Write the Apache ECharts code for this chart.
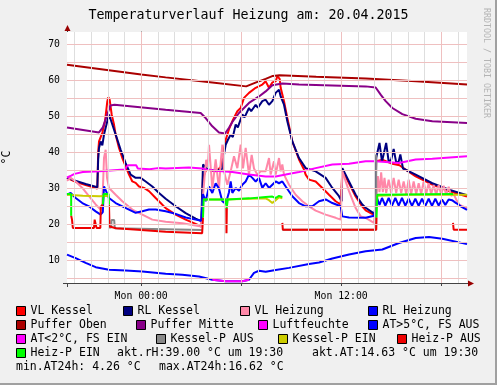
<!DOCTYPE html>
<html><head><meta charset="utf-8">
<script src="https://cdn.jsdelivr.net/npm/echarts@6/dist/echarts.min.js"></script>
<style>html,body{margin:0;padding:0;background:#F0F0F0}#c{width:497px;height:385px}</style>
</head><body><div id="c"></div>
<script>
// ---- text / tick data ----
const titleText = 'Temperaturverlauf Heizung am: 20.04.2015';
const xLabelValues = [0, 12];
const xLabelTexts = ['Mon 00:00', 'Mon 12:00'];
const xMajorTicks = [0, 6, 12, 18];
const yLabelValues = [10, 20, 30, 40, 50, 60, 70];
const infoTexts = ['akt.rH:39.00 °C um 19:30', 'akt.AT:14.63 °C um 19:30', 'min.AT24h: 4.26 °C', 'max.AT24h:16.62 °C'];

const seriesNames = ['VL Kessel','RL Kessel','VL Heizung','RL Heizung','Puffer Oben','Puffer Mitte','Luftfeuchte','AT>5°C, FS AUS','AT<2°C, FS EIN','Kessel-P AUS','Kessel-P EIN','Heiz-P AUS','Heiz-P EIN'];

// ---- series values: [hours relative to Mon 00:00, °C] ----
const vlKessel = [[-4.45,33.0],[-4.0,32.0],[-3.33,31.0],[-2.63,30.0],[-2.58,40.0],[-2.53,43.1],[-2.33,45.5],[-2.17,48.7],[-2.03,54.3],[-1.97,55.4],[-1.89,54.7],[-1.77,50.6],[-1.63,47.8],[-1.53,45.0],[-1.33,41.3],[-1.13,38.5],[-0.93,36.2],[-0.73,33.9],[-0.53,32.0],[-0.33,31.6],[-0.13,30.6],[0.17,30.2],[0.47,29.3],[0.87,27.4],[1.17,26.0],[1.47,24.6],[2.07,22.8],[2.67,21.4],[3.27,20.2],[3.61,19.5],[3.66,19.0],[3.71,33.0],[3.9,35.3],[4.5,34.8],[4.77,36.0],[4.87,39.4],[4.97,40.8],[5.07,43.5],[5.27,46.5],[5.47,48.7],[5.67,50.6],[5.77,51.5],[5.97,52.4],[6.17,55.2],[6.47,56.6],[6.87,58.0],[7.27,58.9],[7.47,59.8],[7.67,58.0],[7.87,59.5],[8.07,59.8],[8.17,61.2],[8.31,60.5],[8.37,58.0],[8.57,54.3],[8.77,49.6],[9.07,43.1],[9.47,38.1],[9.77,35.3],[9.87,33.9],[10.07,32.5],[10.47,32.0],[10.87,30.2],[11.27,28.3],[11.67,26.5],[11.97,25.6],[12.03,25.3],[12.07,35.0],[12.47,31.5],[12.87,27.8],[13.27,25.0],[13.47,24.0],[14.05,22.5],[14.1,37.6],[14.5,38.0],[15.0,37.0],[15.5,36.5],[15.87,35.3],[16.47,33.4],[17.47,31.1],[18.47,29.3],[19.55,27.8]];
const rlKessel = [[-4.45,33.0],[-4.0,32.3],[-3.33,31.3],[-2.63,30.4],[-2.58,38.0],[-2.53,41.3],[-2.43,43.1],[-2.33,42.0],[-2.23,45.0],[-2.13,46.9],[-1.93,50.6],[-1.89,50.8],[-1.73,47.8],[-1.53,45.0],[-1.23,40.8],[-0.93,37.1],[-0.63,33.9],[-0.33,33.0],[-0.03,33.0],[0.27,32.0],[0.67,30.6],[1.07,28.8],[1.47,27.2],[2.07,25.1],[2.67,23.2],[3.27,21.7],[3.61,21.0],[3.66,21.0],[3.71,36.7],[3.83,36.2],[4.0,35.3],[4.47,35.0],[4.87,35.5],[4.97,39.4],[5.07,42.2],[5.2,43.5],[5.37,45.0],[5.5,44.3],[5.67,47.8],[5.8,47.0],[6.07,50.6],[6.2,49.8],[6.47,52.4],[6.6,51.5],[6.87,53.3],[7.0,52.5],[7.27,54.3],[7.47,54.7],[7.67,53.3],[7.87,54.3],[8.07,56.6],[8.27,57.5],[8.37,55.6],[8.57,53.3],[8.77,48.7],[9.07,43.1],[9.47,38.5],[9.87,35.7],[10.47,34.8],[11.07,33.0],[11.47,30.2],[11.87,27.9],[12.03,26.5],[12.07,35.7],[12.47,32.0],[12.87,28.3],[13.27,25.6],[13.47,24.7],[14.07,22.8],[14.1,38.5],[14.22,39.0],[14.3,42.7],[14.45,37.5],[14.55,37.8],[14.7,42.7],[14.85,37.5],[15.0,38.0],[15.15,41.0],[15.3,37.3],[15.45,37.5],[15.55,39.5],[15.71,35.6],[16.47,33.9],[17.47,31.5],[18.47,29.7],[19.55,28.2]];
const vlHeizung = [[-4.45,32.2],[-4.23,33.0],[-3.93,32.0],[-3.53,30.2],[-3.13,27.9],[-2.73,25.6],[-2.43,24.2],[-2.33,25.5],[-2.23,38.5],[-2.13,40.8],[-2.05,33.0],[-1.93,30.2],[-1.53,28.3],[-1.13,26.5],[-0.53,24.2],[0.07,22.8],[0.67,21.4],[1.47,20.8],[2.47,20.4],[3.61,19.5],[3.71,28.0],[3.8,33.0],[3.9,38.0],[4.0,36.0],[4.07,42.2],[4.27,30.0],[4.47,38.1],[4.67,29.7],[4.77,37.2],[4.87,42.2],[4.97,34.8],[5.17,31.1],[5.37,34.8],[5.57,39.0],[5.77,35.7],[5.97,42.2],[6.11,35.6],[6.27,41.3],[6.47,33.9],[6.63,39.4],[6.77,35.6],[6.97,33.9],[7.17,34.8],[7.47,34.8],[7.67,38.5],[7.77,33.9],[7.97,37.6],[8.07,33.9],[8.27,38.5],[8.37,34.8],[8.47,36.7],[8.57,33.9],[8.87,31.1],[9.27,28.3],[9.67,26.5],[10.07,25.1],[10.47,23.9],[11.07,22.8],[11.67,21.9],[11.97,21.4],[12.03,21.4],[12.07,34.8],[12.47,29.3],[12.87,24.6],[13.17,22.3],[13.47,21.9],[13.97,20.5],[14.07,20.3],[14.12,28.0],[14.2,33.5],[14.3,29.0],[14.4,34.5],[14.5,29.0],[14.6,33.0],[14.7,28.8],[14.85,32.5],[15.0,28.8],[15.15,33.0],[15.3,28.8],[15.45,32.5],[15.6,28.8],[15.75,32.0],[15.9,28.5],[16.05,32.5],[16.2,28.5],[16.35,32.0],[16.5,28.5],[16.65,31.5],[16.8,28.5],[16.95,32.0],[17.1,28.5],[17.25,31.5],[17.4,28.5],[17.55,31.0],[17.7,28.3],[17.85,31.0],[18.0,28.3],[18.15,30.8],[18.3,28.3],[18.45,30.5],[18.6,28.0],[18.75,28.5],[18.9,27.0],[19.1,25.5],[19.55,24.6]];
const rlHeizung = [[-4.45,28.3],[-4.23,28.8],[-3.93,27.4],[-3.53,26.0],[-3.13,25.1],[-2.73,23.7],[-2.43,22.8],[-2.3,23.5],[-2.23,30.6],[-2.13,29.6],[-1.93,27.4],[-1.53,26.0],[-1.13,25.1],[-0.73,24.2],[-0.33,23.3],[0.07,23.7],[0.47,24.2],[0.87,24.2],[1.47,23.7],[2.07,23.0],[2.67,22.0],[3.27,21.4],[3.61,21.1],[3.71,28.5],[3.87,26.5],[4.07,30.6],[4.27,28.8],[4.47,31.5],[4.67,30.0],[4.87,26.5],[5.07,25.8],[5.27,29.0],[5.37,32.0],[5.47,28.8],[5.67,30.2],[5.87,29.4],[6.07,31.1],[6.27,32.0],[6.47,33.9],[6.67,33.0],[6.87,32.0],[7.07,33.0],[7.27,30.2],[7.47,31.5],[7.67,30.2],[7.87,31.1],[8.07,32.0],[8.27,31.5],[8.47,32.0],[8.67,30.6],[9.07,27.9],[9.47,26.0],[9.87,25.1],[10.27,25.1],[10.67,26.5],[11.07,27.0],[11.47,26.0],[11.97,25.1],[12.07,22.3],[12.47,22.0],[13.47,21.9],[13.97,22.5],[14.07,22.0],[14.15,27.4],[14.3,25.5],[14.45,27.4],[14.65,25.3],[14.85,27.4],[15.05,25.3],[15.25,27.4],[15.45,25.3],[15.65,27.4],[15.85,25.3],[16.05,27.2],[16.25,25.2],[16.45,27.2],[16.65,25.2],[16.85,27.2],[17.05,25.2],[17.25,27.2],[17.45,25.2],[17.65,27.2],[17.85,25.3],[18.05,27.0],[18.25,25.5],[18.45,27.0],[18.65,26.8],[18.9,26.0],[19.2,25.0],[19.55,24.1]];
const pufferOben = [[-4.45,64.4],[0,61.7],[1.47,60.9],[4.0,59.6],[6.3,58.4],[6.9,59.5],[7.47,60.5],[7.9,61.3],[8.3,61.5],[10.5,61.1],[13.47,60.6],[16.5,59.8],[19.55,58.9]];
const pufferMitte = [[-4.45,47.0],[-2.53,45.6],[-2.3,47.0],[-1.85,53.1],[-1.6,53.3],[1.47,51.9],[3.57,51.0],[3.87,49.6],[4.27,47.3],[4.67,45.6],[5.03,45.3],[5.27,46.9],[5.47,48.5],[5.87,51.0],[6.47,53.8],[7.07,55.6],[7.47,57.0],[7.87,58.7],[8.47,59.2],[9.47,58.9],[13.47,58.4],[14.07,58.1],[14.37,56.1],[14.67,54.3],[15.07,52.4],[15.67,50.7],[16.47,49.4],[17.47,48.7],[19.55,48.2]];
const luftfeuchte = [[-4.45,33.1],[-4.2,33.6],[-4.0,34.1],[-3.5,34.6],[-2.5,34.8],[-1.0,35.3],[-0.8,36.5],[-0.3,36.5],[-0.2,35.6],[0.5,35.4],[1.0,35.7],[1.47,35.6],[2.87,35.9],[3.67,35.6],[3.87,35.3],[4.47,35.0],[5.47,34.6],[6.47,33.9],[7.47,33.4],[8.07,33.4],[8.67,33.9],[9.47,34.6],[10.47,35.7],[11.47,36.7],[12.47,36.9],[13.47,37.6],[14.07,37.6],[15.47,37.1],[16.47,38.1],[17.47,38.3],[19.55,39.0]];
const atHigh = [[-4.45,11.7],[-3.93,10.7],[-3.33,9.4],[-2.73,8.2],[-1.93,7.5],[-0.93,7.3],[0.07,7.0],[1.47,6.4],[2.47,6.1],[3.47,5.6],[4.27,4.7],[5.07,4.3],[6.07,4.3],[6.47,4.7],[6.77,6.6],[7.07,7.2],[7.47,6.9],[8.07,7.4],[8.87,8.0],[10.07,9.1],[10.67,9.5],[11.47,10.6],[12.47,11.7],[13.47,12.6],[14.47,13.1],[15.47,14.9],[16.47,16.3],[17.27,16.6],[18.07,16.1],[19.55,14.6]];
const atLow = [[4.27,4.7],[5.07,4.3],[6.07,4.3],[6.47,4.7]];
const kesselPAus = [[-1.93,19.2],[-1.8,19.2],[-1.78,21.3],[-1.62,21.3],[-1.58,19.0],[3.71,18.5],[3.72,null],[8.47,18.6],[14.1,18.6],[14.1,39.5]];
const kesselPEin = [[-4.45,28.3],[-3.5,28.0],[-2.5,27.9],[-2.0,28.0],[-1.93,27.9],[-1.9,null],[3.71,27.0],[5.0,27.0],[6.5,27.2],[7.47,27.3],[7.67,26.8],[7.87,26.0],[8.07,26.8],[8.27,27.6],[8.47,27.3],[8.5,null],[14.12,28.0],[16.0,28.3],[19.55,28.3]];
const heizPAus = [[-4.2,22.5],[-4.15,21.4],[-4.1,19.1],[-2.83,19.1],[-2.79,21.4],[-2.72,21.4],[-2.68,19.1],[-2.45,19.1],[-2.42,25.0],[-2.3,25.6],[-2.28,null],[-1.93,25.6],[-1.9,19.5],[-1.5,19.0],[0,18.5],[1.47,18.0],[3.66,17.6],[3.71,22.0],[3.72,null],[5.11,24.6],[5.12,17.6],[5.14,24.6],[5.15,null],[8.47,20.5],[8.5,18.6],[14.1,18.6],[14.12,22.0],[14.13,null],[18.71,20.5],[18.75,18.6],[19.55,18.6]];
const heizPEin = [[-4.45,28.5],[-4.2,28.5],[-4.2,22.5],[-4.19,null],[-2.3,25.6],[-2.25,28.5],[-1.95,28.5],[-1.93,25.6],[-1.92,null],[3.71,22.0],[3.75,27.0],[5.07,27.0],[5.13,24.6],[5.2,27.0],[6.5,27.3],[7.47,27.7],[7.87,27.8],[8.07,27.4],[8.27,28.0],[8.47,27.7],[8.48,null],[14.12,22.0],[14.17,28.3],[18.71,28.5]];

const dataList = [vlKessel, rlKessel, vlHeizung, rlHeizung, pufferOben, pufferMitte, luftfeuchte, atHigh, atLow, kesselPAus, kesselPEin, heizPAus, heizPEin];

// ---- styling ----
const colors = ['#FF0000','#000080','#FF88A8','#0000FF','#AA0000','#880088','#FF00FF','#0000FF','#FF00FF','#888888','#CCCC00','#EE0000','#00FF00'];
const mono = '"DejaVu Sans Mono", monospace';
const legendPos = [[16,305],[123,305],[240,305],[368,305],[16,319],[136,319],[258,319],[368,319],[16,333],[156,333],[278,333],[397,333],[16,347]];
const infoPos = [[117,353.5],[312,353.5],[16,367.5],[159,367.5]];

const chart = echarts.init(document.getElementById('c'), null, {renderer:'canvas'});

const minorLines = [], majorLines = [];
for (let h = -4; h <= 19; h++) (h % 6 === 0 ? majorLines : minorLines).push({xAxis: h});
for (let v = 5; v <= 70; v += 5) majorLines.push({yAxis: v});

function gridSeries(lines, color) {
  return {type:'line', data:[], z:0, silent:true, animation:false,
    markLine:{silent:true, animation:false, symbol:['none','none'], label:{show:false}, emphasis:{disabled:true},
      lineStyle:{color:color, width:1, type:'solid'}, data:lines}};
}

const series = [gridSeries(minorLines, '#DEDEDE'), gridSeries(majorLines, '#EFC0C0')];
seriesNames.forEach((n, i) => {
  series.push({name:n, type:'line', data:dataList[i], showSymbol:false, symbol:'none', connectNulls:false,
    silent:true, emphasis:{disabled:true}, z:2,
    lineStyle:{width:2, color:colors[i]}, itemStyle:{color:colors[i]}});
});

const legends = seriesNames.map((n, i) => ({
  data:[n], left:legendPos[i][0], top:legendPos[i][1], padding:0, itemWidth:9, itemHeight:9,
  icon:'rect', selectedMode:false, itemStyle:{borderColor:'#000', borderWidth:1},
  textStyle:{fontFamily:mono, fontSize:11.5, color:'#000'}
}));

const graphic = [
  {type:'rect', shape:{x:495, y:0, width:2, height:385}, style:{fill:'#A0A0A0'}, silent:true},
  {type:'rect', shape:{x:0, y:383, width:497, height:2}, style:{fill:'#A0A0A0'}, silent:true},
  {type:'line', shape:{x1:67.5, y1:283, x2:67.5, y2:287}, style:{stroke:'#444', lineWidth:1}, silent:true},
  {type:'line', shape:{x1:63, y1:283.5, x2:67, y2:283.5}, style:{stroke:'#444', lineWidth:1}, silent:true},
  {type:'line', shape:{x1:67.5, y1:32, x2:67.5, y2:28}, style:{stroke:'#444', lineWidth:1}, silent:true},
  {type:'line', shape:{x1:467, y1:283.5, x2:470, y2:283.5}, style:{stroke:'#444', lineWidth:1}, silent:true},
  {type:'polygon', shape:{points:[[67.5,25],[64.5,31],[70.5,31]]}, style:{fill:'#990000'}, silent:true},
  {type:'polygon', shape:{points:[[474,283.5],[468,280.5],[468,286.5]]}, style:{fill:'#990000'}, silent:true},
  {type:'text', x:486.5, y:8, rotation:-Math.PI/2, silent:true,
    style:{text:'RRDTOOL / TOBI OETIKER', font:'8.3px ' + mono, fill:'#B4B4B4', textAlign:'left', textVerticalAlign:'middle'}}
];
infoTexts.forEach((t, i) => graphic.push({type:'text', x:infoPos[i][0], y:infoPos[i][1], silent:true,
  style:{text:t, font:'11.5px ' + mono, fill:'#000', textAlign:'left', textVerticalAlign:'middle'}}));

const option = {
  animation:false,
  backgroundColor:'#F0F0F0',
  title:{text:titleText, left:'center', top:9, padding:0,
    textStyle:{fontFamily:mono, fontSize:13.3, fontWeight:'normal', color:'#000'}},
  grid:{left:67, right:30, top:32, bottom:102, show:true, backgroundColor:'#FFFFFF', borderWidth:0,
    containLabel:false, outerBoundsMode:'none'},
  xAxis:{type:'value', min:-4.45, max:19.55,
    axisLine:{show:true, lineStyle:{color:'#444', width:1}},
    axisTick:{show:true, customValues:xMajorTicks, length:3, lineStyle:{color:'#444'}},
    axisLabel:{customValues:xLabelValues, margin:8, fontFamily:mono, fontSize:9.8, color:'#000',
      formatter:v => { const k = xLabelValues.indexOf(v); return k >= 0 ? xLabelTexts[k] : ''; }},
    splitLine:{show:false}},
  yAxis:{type:'value', min:3.8, max:73.5,
    name:'°C', nameLocation:'middle', nameRotate:90, nameGap:54,
    nameTextStyle:{fontFamily:mono, fontSize:11.5, color:'#000'},
    axisLine:{show:true, lineStyle:{color:'#444', width:1}},
    axisTick:{show:true, customValues:yLabelValues, length:3, lineStyle:{color:'#444'}},
    axisLabel:{customValues:yLabelValues, margin:7, fontFamily:mono, fontSize:9.8, color:'#000',
      formatter:v => yLabelValues.indexOf(v) >= 0 ? String(v) : ''},
    splitLine:{show:false}},
  legend:legends,
  series:series,
  graphic:graphic
};
chart.setOption(option);
</script>
</body></html>
